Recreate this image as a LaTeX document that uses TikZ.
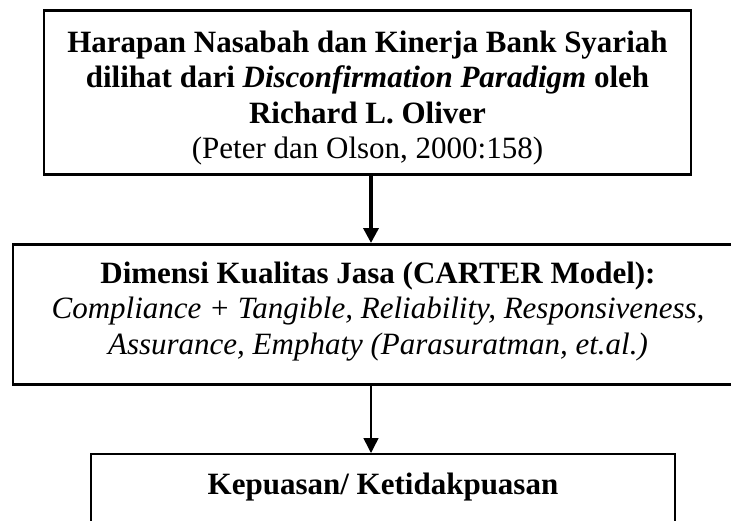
\documentclass[tikz,border=0pt]{standalone}
\usepackage{fontspec}
\setmainfont{Liberation Serif}
\usepackage{tikz}
\usetikzlibrary{arrows.meta}

\begin{document}
\begin{tikzpicture}[x=1pt,y=-1pt,
  kotak/.style={draw, rectangle, inner xsep=0pt, inner ysep=0pt, anchor=north,
    font=\fontsize{31}{35.5}\selectfont},
  panah/.style={-{Triangle[length=15pt,width=15pt]}}]

\useasboundingbox (0,0) rectangle (731,520);

%%%%%%%%%%%%%%%%%%%%%%%%%%%% kotak atas %%%%%%%%%%%%%%%%%%%%
\node (harapan) [kotak, line width=2.5pt, minimum width=647pt,
  text height=42pt, text depth=122pt] at (367.5,9)
  {\begin{tabular}[t]{c}
   \textbf{Harapan Nasabah dan Kinerja Bank Syariah}\\
   \textbf{dilihat dari \textit{Disconfirmation Paradigm} oleh}\\
   \textbf{Richard L. Oliver}\\
   (Peter dan Olson, 2000:158)
   \end{tabular}};

%%%%%%%%%%%%%%%%%%%%%%%%%%%% kotak tengah %%%%%%%%%%%%%%%%%%%%
\node (dimensi) [kotak, line width=2.5pt, minimum width=730pt,
  text height=39pt, text depth=101pt] at (378,243)
  {\begin{tabular}[t]{c}
   \textbf{Dimensi Kualitas Jasa (CARTER Model):}\\
   \textit{Compliance + Tangible, Reliability, Responsiveness,}\\
   \textit{Assurance, Emphaty (Parasuratman, et.al.)}
   \end{tabular}};

%%%%%%%%%%%%%%%%%%%%%%%%%%%% kotak bawah %%%%%%%%%%%%%%%%%%%%
\node (kepuasan) [kotak, line width=2pt, minimum width=584pt,
  text height=40pt, text depth=80pt] at (383,453)
  {\textbf{Kepuasan/ Ketidakpuasan}};

%% panah
\coordinate (sumbu) at (371,0);
\draw [panah, line width=3.5pt] (harapan.south -| sumbu) -- (dimensi.north -| sumbu);
\draw [panah, line width=1.5pt] (dimensi.south -| sumbu) -- (kepuasan.north -| sumbu);

\end{tikzpicture}
\end{document}
